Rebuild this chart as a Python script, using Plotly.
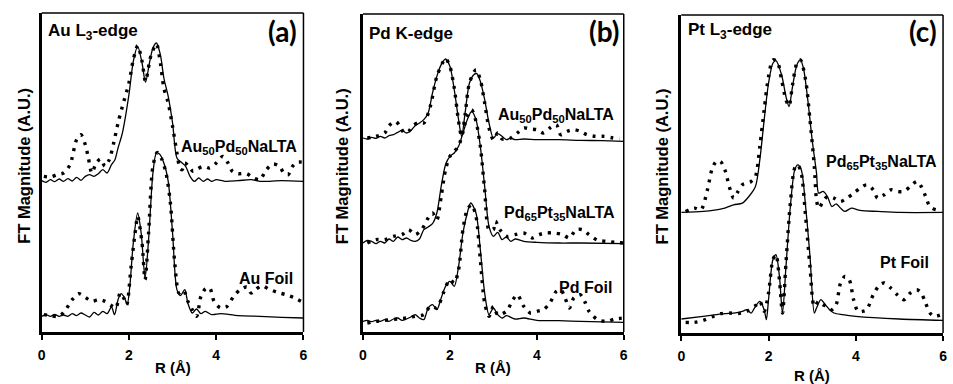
import plotly.graph_objects as go

# ---------------- data (R in Å, FT magnitude in arbitrary units) ----------------
# Panel (a) Au L3-edge
a_top_fit_r = [0, 0.1, 0.2, 0.3, 0.4, 0.5, 0.6, 0.7, 0.8, 0.9, 1.0, 1.1, 1.2, 1.3, 1.4, 1.5, 1.6, 1.68, 1.75, 1.85,
               2.0, 2.1, 2.2, 2.3, 2.38, 2.47, 2.55, 2.63, 2.72, 2.8, 2.9, 3.0, 3.1, 3.2, 3.3, 3.4, 3.5, 3.6, 3.7,
               3.8, 3.9, 4.0, 4.2, 4.5, 4.8, 5.0, 5.5, 6.0]
a_top_fit = [457, 452, 460, 454, 462, 455, 463, 456, 467, 458, 470, 475, 470, 478, 490, 480, 505, 520, 555, 600,
             715, 815, 860, 810, 752, 810, 855, 870, 835, 765, 710, 630, 525, 512, 500, 470, 455, 465, 455,
             462, 455, 460, 455, 457, 460, 455, 457, 455]
a_top_exp_r = [0.05, 0.2, 0.35, 0.5, 0.65, 0.8, 0.9, 1.0, 1.07, 1.15, 1.25, 1.35, 1.45, 1.55, 1.65, 1.75, 1.85,
               2.0, 2.1, 2.2, 2.3, 2.38, 2.5, 2.63, 2.72, 2.8, 2.9, 3.0, 3.1, 3.17, 3.22, 3.28, 3.38, 3.47, 3.57,
               3.7, 3.85, 4.0, 4.15, 4.27, 4.37, 4.5, 4.7, 4.85, 5.0, 5.15, 5.3, 5.45, 5.55, 5.65, 5.75, 5.85, 6.0]
a_top_exp = [470, 468, 475, 480, 505, 580, 595, 565, 525, 480, 510, 522, 500, 520, 570, 630, 680,
             750, 820, 862, 815, 755, 830, 867, 810, 735, 690, 620, 540, 495, 490, 510, 498, 485, 492,
             500, 495, 510, 530, 510, 485, 478, 478, 465, 460, 490, 507, 500, 480, 475, 500, 512, 512]
a_bot_fit_r = [0, 0.1, 0.2, 0.3, 0.4, 0.5, 0.6, 0.7, 0.8, 0.9, 1.0, 1.1, 1.2, 1.3, 1.4, 1.5, 1.6, 1.67, 1.75, 1.82,
               1.9, 1.96, 2.02, 2.1, 2.2, 2.28, 2.37, 2.45, 2.55, 2.63, 2.7, 2.8, 2.9, 3.0, 3.1, 3.18, 3.28, 3.35,
               3.45, 3.55, 3.65, 3.75, 3.9, 4.1, 4.5, 5.0, 5.5, 6.0]
a_bot_fit = [50, 55, 50, 56, 50, 54, 50, 58, 52, 60, 54, 48, 62, 54, 65, 58, 78, 55, 100, 118,
             105, 85, 140, 270, 360, 300, 165, 280, 480, 540, 537, 510, 455, 300, 130, 112, 130, 90,
             60, 72, 58, 65, 55, 58, 52, 50, 47, 45]
a_bot_exp_r = [0.05, 0.2, 0.4, 0.55, 0.7, 0.85, 1.0, 1.15, 1.3, 1.45, 1.6, 1.7, 1.8, 1.9, 1.95, 2.05, 2.15, 2.2,
               2.3, 2.37, 2.45, 2.55, 2.65, 2.75, 2.85, 2.95, 3.05, 3.15, 3.25, 3.35, 3.45, 3.55, 3.65, 3.75,
               3.85, 3.95, 4.1, 4.25, 4.4, 4.55, 4.7, 4.8, 4.9, 5.05, 5.2, 5.4, 5.6, 5.8, 5.95]
a_bot_exp = [55, 52, 50, 70, 100, 118, 107, 95, 100, 95, 82, 75, 120, 100, 85, 200, 310, 350,
             270, 160, 300, 500, 542, 522, 480, 390, 210, 120, 128, 95, 70, 50, 110, 132,
             135, 95, 75, 80, 110, 130, 138, 120, 130, 142, 132, 122, 115, 105, 95]

# Panel (b) Pd K-edge
b_top_fit_r = [0, 0.1, 0.2, 0.3, 0.4, 0.5, 0.6, 0.7, 0.8, 0.9, 1.0, 1.1, 1.2, 1.3, 1.4, 1.5, 1.6, 1.7, 1.8, 1.9,
               2.0, 2.1, 2.2, 2.27, 2.35, 2.45, 2.55, 2.62, 2.7, 2.8, 2.9, 3.0, 3.1, 3.2, 3.3, 3.4, 3.5, 3.7,
               4.0, 4.5, 5.0, 5.5, 6.0]
b_top_fit = [585, 582, 587, 584, 590, 585, 592, 595, 602, 608, 600, 607, 622, 630, 640, 660, 720, 770, 805, 822,
             800, 730, 640, 590, 660, 750, 775, 778, 755, 700, 630, 585, 598, 590, 580, 585, 580, 582,
             580, 580, 578, 577, 575]
b_top_exp_r = [0.1, 0.3, 0.5, 0.6, 0.75, 0.85, 0.95, 1.05, 1.15, 1.3, 1.4, 1.55, 1.7, 1.85, 1.9, 2.0, 2.1, 2.2,
               2.27, 2.35, 2.45, 2.6, 2.7, 2.8, 2.9, 3.0, 3.1, 3.2, 3.4, 3.55, 3.7, 3.85, 4.0, 4.15, 4.3,
               4.45, 4.55, 4.7, 4.85, 5.0, 5.15, 5.35, 5.55, 5.75, 5.9]
b_top_exp = [585, 590, 600, 622, 635, 620, 600, 605, 622, 632, 630, 680, 770, 815, 824, 800, 735, 635,
             590, 655, 750, 790, 760, 690, 615, 580, 600, 582, 585, 600, 615, 612, 610, 600, 615,
             625, 595, 605, 610, 605, 595, 590, 590, 585, 582]
b_mid_fit_r = [0, 0.1, 0.2, 0.3, 0.4, 0.5, 0.6, 0.7, 0.8, 0.9, 1.0, 1.1, 1.2, 1.3, 1.4, 1.5, 1.6, 1.7, 1.8, 1.9,
               2.0, 2.1, 2.2, 2.3, 2.4, 2.5, 2.6, 2.7, 2.8, 2.9, 3.0, 3.1, 3.2, 3.3, 3.4, 3.5, 3.7, 4.0, 4.5,
               5.0, 6.0]
b_mid_fit = [270, 278, 275, 268, 275, 270, 282, 275, 288, 280, 285, 278, 275, 282, 310, 318, 328, 360, 440, 505,
             530, 540, 560, 600, 640, 665, 640, 560, 440, 320, 290, 302, 280, 288, 275, 282, 275, 272, 270,
             270, 268]
b_mid_exp_r = [0.1, 0.3, 0.5, 0.7, 0.9, 1.05, 1.2, 1.35, 1.5, 1.6, 1.7, 1.8, 1.9, 2.0, 2.1, 2.2, 2.3, 2.4, 2.5,
               2.6, 2.7, 2.8, 2.9, 3.0, 3.05, 3.15, 3.3, 3.5, 3.7, 3.9, 4.05, 4.2, 4.4, 4.6, 4.75, 4.9, 5.05,
               5.2, 5.4, 5.6, 5.8, 6.0]
b_mid_exp = [270, 280, 280, 290, 295, 310, 295, 310, 345, 360, 340, 410, 490, 530, 545, 560, 605, 650, 670,
             635, 560, 430, 310, 310, 335, 310, 290, 295, 300, 285, 295, 300, 300, 295, 285, 310, 310,
             295, 278, 275, 272, 270]
b_bot_fit_r = [0, 0.1, 0.2, 0.3, 0.4, 0.5, 0.6, 0.7, 0.8, 0.9, 1.0, 1.1, 1.2, 1.3, 1.4, 1.5, 1.6, 1.7, 1.8, 1.9,
               2.0, 2.1, 2.2, 2.3, 2.4, 2.48, 2.6, 2.7, 2.8, 2.9, 3.0, 3.1, 3.2, 3.3, 3.5, 3.7, 4.0, 4.5, 5.0,
               6.0]
b_bot_fit = [35, 38, 34, 38, 35, 40, 35, 42, 45, 38, 42, 48, 55, 45, 40, 75, 85, 70, 105, 140,
             155, 140, 200, 300, 360, 390, 360, 250, 120, 55, 75, 55, 45, 52, 42, 45, 38, 37, 35,
             32]
b_bot_exp_r = [0.1, 0.3, 0.5, 0.8, 1.0, 1.2, 1.4, 1.55, 1.7, 1.85, 2.0, 2.1, 2.2, 2.3, 2.4, 2.5, 2.6, 2.7, 2.8,
               2.9, 3.0, 3.1, 3.3, 3.45, 3.55, 3.7, 3.85, 4.0, 4.15, 4.3, 4.45, 4.55, 4.65, 4.75, 4.85, 5.0,
               5.1, 5.2, 5.4, 5.6, 5.8, 6.0]
b_bot_exp = [30, 35, 38, 42, 45, 50, 55, 80, 75, 120, 160, 150, 190, 310, 370, 385, 350, 220, 90,
             50, 80, 55, 65, 100, 115, 80, 60, 65, 70, 90, 125, 130, 105, 75, 105, 115,
             95, 65, 40, 35, 42, 45]

# Panel (c) Pt L3-edge
c_top_fit_r = [0, 0.5, 0.8, 1.0, 1.2, 1.4, 1.55, 1.7, 1.8, 1.9, 2.0, 2.1, 2.17, 2.3, 2.4, 2.47, 2.55, 2.65, 2.73,
               2.8, 2.9, 3.0, 3.1, 3.15, 3.25, 3.35, 3.45, 3.55, 3.65, 3.75, 3.9, 4.1, 4.5, 5.0, 6.0]
c_top_fit = [362, 365, 370, 375, 385, 390, 410, 440, 520, 640, 750, 810, 818, 775, 710, 680, 740, 805, 820,
             795, 700, 580, 480, 420, 425, 410, 380, 388, 375, 365, 375, 368, 365, 362, 362]
c_top_exp_r = [0.1, 0.3, 0.45, 0.6, 0.7, 0.8, 0.9, 1.0, 1.1, 1.2, 1.3, 1.4, 1.5, 1.6, 1.7, 1.8, 1.9, 2.0, 2.1,
               2.2, 2.3, 2.4, 2.47, 2.55, 2.65, 2.73, 2.85, 2.95, 3.05, 3.1, 3.15, 3.25, 3.35, 3.5, 3.65, 3.8,
               3.95, 4.1, 4.25, 4.4, 4.5, 4.65, 4.8, 4.95, 5.1, 5.25, 5.4, 5.5, 5.6, 5.7, 5.85, 5.95]
c_top_exp = [365, 375, 370, 430, 490, 515, 515, 490, 440, 405, 425, 445, 450, 455, 470, 560, 670, 770, 820,
             815, 760, 700, 682, 745, 810, 820, 760, 640, 500, 400, 375, 395, 410, 405, 395, 405,
             420, 435, 445, 430, 405, 415, 430, 425, 425, 440, 455, 440, 410, 380, 370, 375]
c_bot_fit_r = [0, 0.5, 0.8, 1.0, 1.2, 1.4, 1.5, 1.6, 1.7, 1.8, 1.9, 1.95, 2.0, 2.1, 2.17, 2.25, 2.32, 2.4, 2.5,
               2.6, 2.67, 2.75, 2.85, 2.95, 3.05, 3.1, 3.2, 3.3, 3.4, 3.5, 3.7, 4.0, 5.0, 6.0]
c_bot_fit = [42, 50, 55, 58, 60, 65, 70, 60, 80, 95, 70, 40, 100, 220, 235, 170, 60, 200, 380,
             490, 505, 490, 380, 230, 60, 75, 100, 85, 70, 60, 55, 50, 42, 38]
c_bot_exp_r = [0.1, 0.3, 0.5, 0.7, 0.9, 1.1, 1.3, 1.5, 1.7, 1.8, 1.9, 2.0, 2.1, 2.17, 2.25, 2.32, 2.4, 2.5, 2.6,
               2.67, 2.75, 2.85, 2.95, 3.05, 3.15, 3.25, 3.35, 3.45, 3.55, 3.65, 3.75, 3.85, 3.95, 4.05, 4.15,
               4.25, 4.4, 4.55, 4.65, 4.8, 4.95, 5.1, 5.25, 5.4, 5.5, 5.6, 5.7, 5.8, 5.95]
c_bot_exp = [32, 32, 38, 48, 58, 60, 58, 65, 82, 95, 65, 120, 220, 235, 160, 60, 210, 390, 495,
             505, 480, 350, 200, 80, 95, 85, 80, 70, 85, 150, 170, 160, 100, 65, 65,
             70, 115, 145, 150, 135, 115, 100, 120, 130, 120, 90, 60, 50, 55]

x_ticks = [0, 2, 4, 6]

panels = [
    dict(edge="Au L<sub>3</sub>-edge", tag="(a)", yr=[3, 960],
         series=[(a_top_fit_r, a_top_fit, a_top_exp_r, a_top_exp),
                 (a_bot_fit_r, a_bot_fit, a_bot_exp_r, a_bot_exp)],
         labels=[("Au<sub>50</sub>Pd<sub>50</sub>NaLTA", 297, 147), ("Au Foil", 293, 278)],
         box=(38, 302, 13, 332), edge_xy=(42, 32), tag_xy=(298, 31), ytitle_x=20, xtitle_y=367, tagfs=28),
    dict(edge="Pd K-edge", tag="(b)", yr=[3, 957],
         series=[(b_top_fit_r, b_top_fit, b_top_exp_r, b_top_exp),
                 (b_mid_fit_r, b_mid_fit, b_mid_exp_r, b_mid_exp),
                 (b_bot_fit_r, b_bot_fit, b_bot_exp_r, b_bot_exp)],
         labels=[("Au<sub>50</sub>Pd<sub>50</sub>NaLTA", 617, 115),
                 ("Pd<sub>65</sub>Pt<sub>35</sub>NaLTA", 618, 213), ("Pd Foil", 615, 287)],
         box=(362, 625, 14, 332), edge_xy=(366, 33), tag_xy=(622, 31), ytitle_x=341, xtitle_y=367, tagfs=28),
    dict(edge="Pt L<sub>3</sub>-edge", tag="(c)", yr=[0, 955],
         series=[(c_top_fit_r, c_top_fit, c_top_exp_r, c_top_exp),
                 (c_bot_fit_r, c_bot_fit, c_bot_exp_r, c_bot_exp)],
         labels=[("Pd<sub>65</sub>Pt<sub>35</sub>NaLTA", 943, 162), ("Pt Foil", 935, 262)],
         box=(683, 947, 15, 333), edge_xy=(688, 31), tag_xy=(943, 31), ytitle_x=664, xtitle_y=375, tagfs=28),
]

W, H = 953, 384
def px(x):
    return x / W
def py(y):
    return 1 - y / H

ARIAL = "Arial, 'Liberation Sans', sans-serif"
fig = go.Figure()
annotations = []
shapes = []
layout = dict(width=W, height=H, margin=dict(l=0, r=0, t=0, b=0),
              paper_bgcolor="white", plot_bgcolor="white", showlegend=False)

for i, p in enumerate(panels):
    k = "" if i == 0 else str(i + 1)
    xa, ya = "x" + k, "y" + k
    x0, x1, y0, y1 = p["box"]
    for fr, fv, er, ev in p["series"]:
        fig.add_trace(go.Scatter(x=er, y=ev, mode="lines", xaxis=xa, yaxis=ya,
                                 line=dict(color="black", width=3.4, dash="3px,6px", shape="spline", smoothing=0.8)))
        fig.add_trace(go.Scatter(x=fr, y=fv, mode="lines", xaxis=xa, yaxis=ya,
                                 line=dict(color="black", width=1.3, shape="spline", smoothing=0.8)))
    layout["xaxis" + k] = dict(domain=[px(x0), px(x1)], range=[0, 6], anchor=ya,
                               tickvals=x_ticks, ticks="outside", ticklen=5, tickwidth=2, tickcolor="black",
                               showline=True, linewidth=2.5, linecolor="black", showgrid=False, zeroline=False,
                               tickfont=dict(family=ARIAL, size=14, color="black", weight="bold"),
                               ticklabelstandoff=3)
    layout["yaxis" + k] = dict(domain=[py(y1), py(y0)], range=p["yr"], anchor=xa,
                               showticklabels=False, ticks="", showline=True, linewidth=2.5, linecolor="black",
                               showgrid=False, zeroline=False)
    # thin top and right frame
    shapes.append(dict(type="line", xref=xa + " domain", yref=ya + " domain", x0=0, x1=1, y0=1, y1=1,
                       line=dict(color="black", width=1.5)))
    shapes.append(dict(type="line", xref=xa + " domain", yref=ya + " domain", x0=1, x1=1, y0=0, y1=1,
                       line=dict(color="black", width=1.5)))
    font = dict(family=ARIAL, size=16, color="black", weight="bold")
    annotations.append(dict(text=p["edge"], x=px(p["edge_xy"][0]), y=py(p["edge_xy"][1]), xref="paper", yref="paper",
                            xanchor="left", yanchor="middle", showarrow=False,
                            font=dict(family=ARIAL, size=17, color="black", weight="bold")))
    annotations.append(dict(text=p["tag"], x=px(p["tag_xy"][0]), y=py(p["tag_xy"][1]), xref="paper", yref="paper",
                            xanchor="right", yanchor="middle", showarrow=False,
                            font=dict(family="Lato, 'Open Sans', sans-serif", size=p["tagfs"], color="black", weight="bold")))
    for t, lx, ly in p["labels"]:
        annotations.append(dict(text=t, x=px(lx), y=py(ly), xref="paper", yref="paper",
                                xanchor="right", yanchor="middle", showarrow=False, font=font))
    annotations.append(dict(text="FT Magnitude (A.U.)", x=px(p["ytitle_x"]), y=py(166), xref="paper", yref="paper",
                            xanchor="center", yanchor="middle", textangle=-90, showarrow=False,
                            font=dict(family=ARIAL, size=16.5, color="black", weight="bold")))
    annotations.append(dict(text="R (Å)", x=px((x0 + x1) / 2), y=py(p["xtitle_y"]), xref="paper", yref="paper",
                            xanchor="center", yanchor="middle", showarrow=False,
                            font=dict(family=ARIAL, size=15, color="black", weight="bold")))

layout["annotations"] = annotations
layout["shapes"] = shapes
fig.update_layout(**layout)
fig.write_html("out.html")
